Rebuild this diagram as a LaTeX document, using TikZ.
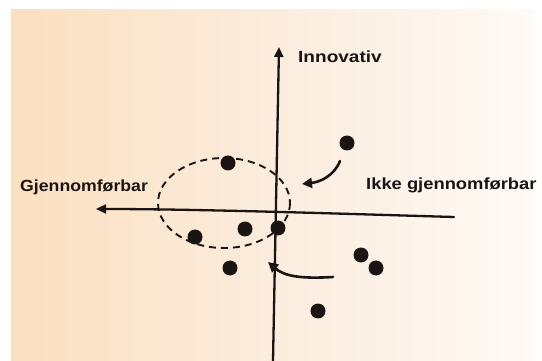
\documentclass[tikz,border=0pt]{standalone}
\usepackage{fontspec}
\setmainfont{Liberation Sans}
\usetikzlibrary{arrows.meta}
\definecolor{ink}{HTML}{1A1512}
\definecolor{paperL}{HTML}{FBE0C0}
\definecolor{paperM}{HTML}{FBECDD}
\definecolor{paperR}{HTML}{FFFAF6}
\begin{document}
\begin{tikzpicture}[x=1pt,y=-1pt,
  ink line/.style={draw=ink, line width=2.3pt, line cap=round},
  axis/.style={ink line, -{Triangle[length=10pt,width=9pt]}},
  pointer/.style={ink line, line width=2.6pt, -{Triangle[length=10pt,width=10pt]}},
  dot/.style={circle, fill=ink, inner sep=0pt, minimum size=15pt},
  lbl/.style={text=ink, inner sep=0pt, font=\fontsize{17}{17}\selectfont\bfseries}
]
\useasboundingbox (0,0) rectangle (542,361);
\fill[white] (0,0) rectangle (542,361);
\shade[left color=paperL, right color=paperR, middle color=paperM] (11,10) rectangle (534,361);

% axes
\coordinate (vb) at (273,361);
\coordinate (vt) at (279,47);
\coordinate (hl) at (96,209);
\coordinate (hr) at (454,217);
\draw[axis] (vb) -- (vt);
\draw[axis] (hr) .. controls (350,214) and (200,209) .. (hl);

% labels
\node[lbl, anchor=west] (innov) at (298,57) {\scalebox{1.12}[0.95]{Innovativ}};
\node[lbl, anchor=west] (gj) at (20,187) {\scalebox{1.04}[0.95]{Gjennomførbar}};
\node[lbl, anchor=west] (ikke) at (366,185) {\scalebox{1.08}[0.95]{Ikke gjennomførbar}};

% dashed ellipse
\draw[ink, line width=1.9pt, dash pattern=on 7pt off 5pt] (224,203) ellipse [x radius=66, y radius=45];

% dots
\node[dot] (d1) at (347,143) {};
\node[dot] (d2) at (228,163) {};
\node[dot] (d3) at (195,237) {};
\node[dot] (d4) at (245,229) {};
\node[dot] (d5) at (278,228) {};
\node[dot] (d6) at (230,268) {};
\node[dot] (d7) at (361,255) {};
\node[dot] (d8) at (376,268) {};
\node[dot] (d9) at (318,311) {};

% pointers
\coordinate (p1s) at (340,161);
\coordinate (p1e) at (302,184);
\draw[pointer] (p1s) .. controls (334,176) and (320,182) .. (p1e);
\coordinate (p2s) at (333,277);
\coordinate (p2e) at (268,262);
\draw[pointer] (p2s) .. controls (300,279) and (284,276) .. (p2e);
\end{tikzpicture}
\end{document}
